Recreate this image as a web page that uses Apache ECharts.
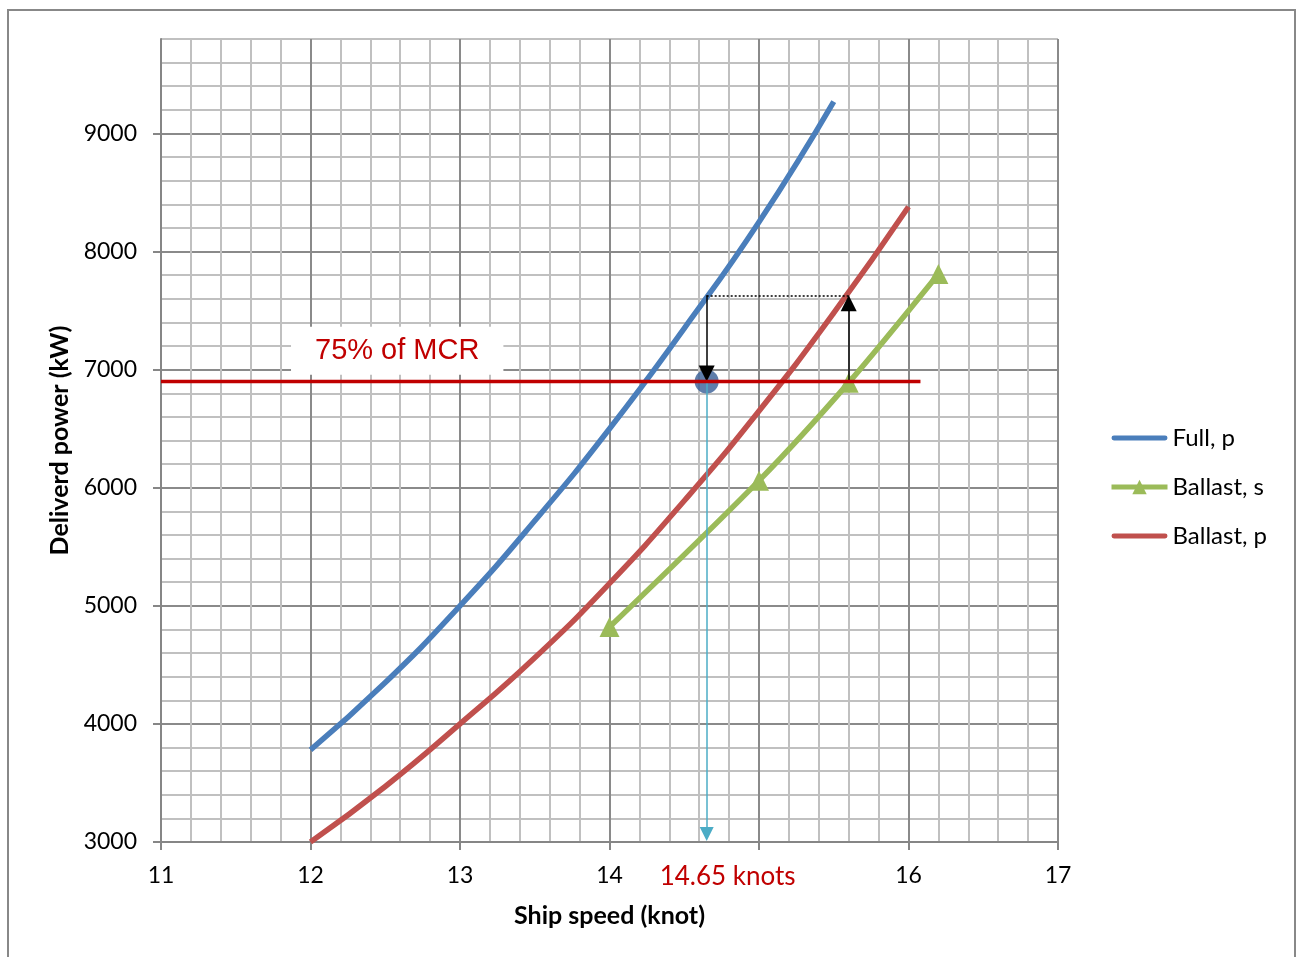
<!DOCTYPE html>
<html><head><meta charset="utf-8">
<script src="https://cdn.jsdelivr.net/npm/echarts@6/dist/echarts.min.js"></script>
<style>html,body{margin:0;padding:0;background:#fff}#c{width:1301px;height:957px}</style>
</head><body><div id="c"></div>
<script>
// ---- data ----
const fullSpeed = [12, 12.5, 13, 13.5, 14, 14.5, 15, 15.5];
const fullPower = [3780, 4350, 5000, 5720, 6500, 7350, 8250, 9270];
const ballastPSpeed = [12, 12.5, 13, 13.5, 14, 14.5, 15, 15.5, 16];
const ballastPPower = [3000, 3470, 4000, 4560, 5190, 5890, 6650, 7480, 8380];
const ballastSSpeed = [14, 15, 15.6, 16.2];
const ballastSPower = [4820, 6060, 6890, 7810];
const mcrSpeed = [11, 16.08];
const mcrPower = [6900, 6900];
const opSpeed = 14.65, opPower = 6900, fullAtOp = 7630, ballastSpeedAtMcr = 15.6, axisMinPower = 3000;
const xTickLabels = ['11', '12', '13', '14', '', '16', '17'];
const yTickValues = [3000, 4000, 5000, 6000, 7000, 8000, 9000];
const mcrLabel = '75% of MCR', mcrLabelAt = [12.58, 7160];
const speedLabel = '14.65 knots', speedLabelAt = [14.79, 3000];

const FONT = 'Lato';
const zip = (a, b) => a.map((v, i) => [v, b[i]]);
const barIcon = 'path://M2,0 L54,0 A2.5,2.5 0 0 1 54,5 L2,5 A2.5,2.5 0 0 1 2,0 Z';

const chart = echarts.init(document.getElementById('c'));
const option = {
  animation: false,
  backgroundColor: '#fff',
  grid: { left: 161, right: 243, top: 39, bottom: 115, containLabel: false },
  legend: {
    orient: 'vertical', left: 1109, top: 426,
    itemWidth: 56, itemHeight: 18, itemGap: 25, padding: 0,
    lineStyle: { width: 5 },
    data: [
      { name: 'Full, p', icon: barIcon },
      { name: 'Ballast, s' },
      { name: 'Ballast, p', icon: barIcon }
    ],
    textStyle: { fontFamily: FONT, fontSize: 24, color: '#000' }
  },
  xAxis: {
    type: 'value', min: 11, max: 17, interval: 1,
    name: 'Ship speed (knot)', nameLocation: 'middle', nameGap: 61,
    nameTextStyle: { fontFamily: FONT, fontSize: 25, fontWeight: 'bold', color: '#000' },
    axisLine: { show: true, lineStyle: { color: '#868686', width: 2 } },
    axisTick: { show: true, length: 8, inside: false, lineStyle: { color: '#868686', width: 2 } },
    axisLabel: { margin: 22, fontFamily: FONT, fontSize: 23, color: '#000',
      formatter: v => xTickLabels[Math.round(v - 11)] },
    splitLine: { show: true, lineStyle: { color: '#8a8a8a', width: 2 } },
    minorTick: { show: false, splitNumber: 5 },
    minorSplitLine: { show: true, lineStyle: { color: '#c0c0c0', width: 2 } }
  },
  yAxis: [{
    type: 'value', min: 3000, max: 9800, interval: 200,
    axisLine: { show: false }, axisTick: { show: false }, axisLabel: { show: false },
    splitLine: { show: true, lineStyle: { width: 2,
      color: ['#8a8a8a', '#c0c0c0', '#c0c0c0', '#c0c0c0', '#c0c0c0'] } }
  }, {
    type: 'value', min: 3000, max: 9800, interval: 1000, position: 'left',
    name: 'Deliverd power (kW)', nameLocation: 'middle', nameGap: 84,
    nameTextStyle: { fontFamily: FONT, fontSize: 25, fontWeight: 'bold', color: '#000' },
    axisLine: { show: true, lineStyle: { color: '#868686', width: 2 } },
    axisTick: { show: true, length: 8, customValues: yTickValues, lineStyle: { color: '#868686', width: 2 } },
    axisLabel: { margin: 24, fontFamily: FONT, fontSize: 23, color: '#000', customValues: yTickValues,
      formatter: v => String(v) },
    splitLine: { show: false }
  }],
  series: [
    { id: 'full', name: 'Full, p', type: 'line', smooth: true, symbol: 'none', z: 3,
      data: zip(fullSpeed, fullPower),
      itemStyle: { color: '#4A7EBB' }, lineStyle: { color: '#4A7EBB', width: 5.5 } },
    { id: 'ballastS', name: 'Ballast, s', type: 'line', smooth: 0.3, symbol: 'triangle', symbolSize: 20, z: 3,
      data: zip(ballastSSpeed, ballastSPower),
      itemStyle: { color: '#9BBB59' }, lineStyle: { color: '#9BBB59', width: 5.5 } },
    { id: 'ballastP', name: 'Ballast, p', type: 'line', smooth: true, symbol: 'none', z: 3,
      data: zip(ballastPSpeed, ballastPPower),
      itemStyle: { color: '#C0504D' }, lineStyle: { color: '#C0504D', width: 5.5 } },
    { id: 'op', name: 'op', type: 'scatter', symbolSize: 24, z: 4,
      data: [[opSpeed, opPower]], itemStyle: { color: '#375E96' } },
    { id: 'mcr', name: 'mcr', type: 'line', symbol: 'none', z: 5,
      data: zip(mcrSpeed, mcrPower), lineStyle: { color: '#C00000', width: 3.5 } }
  ]
};
chart.setOption(option);

// arrow ends: pull the end point back by half of the arrow-head so the tip lands on the target
const toPx = p => chart.convertToPixel({ gridIndex: 0 }, p);
const toData = p => chart.convertFromPixel({ gridIndex: 0 }, p);
function shortened(from, to, px) {
  const a = toPx(from), b = toPx(to);
  const dx = b[0] - a[0], dy = b[1] - a[1], L = Math.hypot(dx, dy);
  return toData([b[0] - dx / L * px, b[1] - dy / L * px]);
}
const blackSolid = { color: '#000', width: 1.5, type: 'solid' };
option.series.push({
  id: 'arrows', name: 'arrows', type: 'line', data: [], z: 6,
  markLine: {
    silent: true, animation: false, label: { show: false },
    data: [
      [{ coord: [opSpeed, fullAtOp], symbol: 'none', lineStyle: blackSolid },
       { coord: shortened([opSpeed, fullAtOp], [opSpeed, opPower], 8), symbol: 'triangle', symbolSize: [16, 16] }],
      [{ coord: [ballastSpeedAtMcr, opPower], symbol: 'none', lineStyle: blackSolid },
       { coord: shortened([ballastSpeedAtMcr, opPower], [ballastSpeedAtMcr, fullAtOp], 8), symbol: 'triangle', symbolSize: [16, 16] }],
      [{ coord: [opSpeed, fullAtOp], symbol: 'none', lineStyle: { color: '#000', width: 1.5, type: [2, 2] } },
       { coord: [ballastSpeedAtMcr, fullAtOp], symbol: 'none' }],
      [{ coord: [opSpeed, opPower], symbol: 'none', lineStyle: { color: '#4BACC6', width: 1.5, type: 'solid' } },
       { coord: shortened([opSpeed, opPower], [opSpeed, axisMinPower], 8), symbol: 'triangle', symbolSize: [14, 14] }]
    ]
  }
});

const p1 = toPx(mcrLabelAt);
const p2 = toPx(speedLabelAt);
option.graphic = [
  { type: 'rect', shape: { x: 8, y: 10, width: 1287, height: 970 }, z: -10, silent: true,
    style: { fill: 'none', stroke: '#888', lineWidth: 2 } },
  { type: 'text', x: p1[0], y: p1[1], z: 100,
    style: { text: mcrLabel, fill: '#C00000', font: '29px "Liberation Sans"', align: 'center', verticalAlign: 'middle',
      backgroundColor: '#fff', padding: [10, 24, 9, 24] } },
  { type: 'text', x: p2[0], y: p2[1] + 35, z: 100,
    style: { text: speedLabel, fill: '#C00000', font: '26px ' + FONT, align: 'center', verticalAlign: 'middle',
      backgroundColor: '#fff', padding: [2, 4] } }
];
chart.setOption(option, true);
</script></body></html>
